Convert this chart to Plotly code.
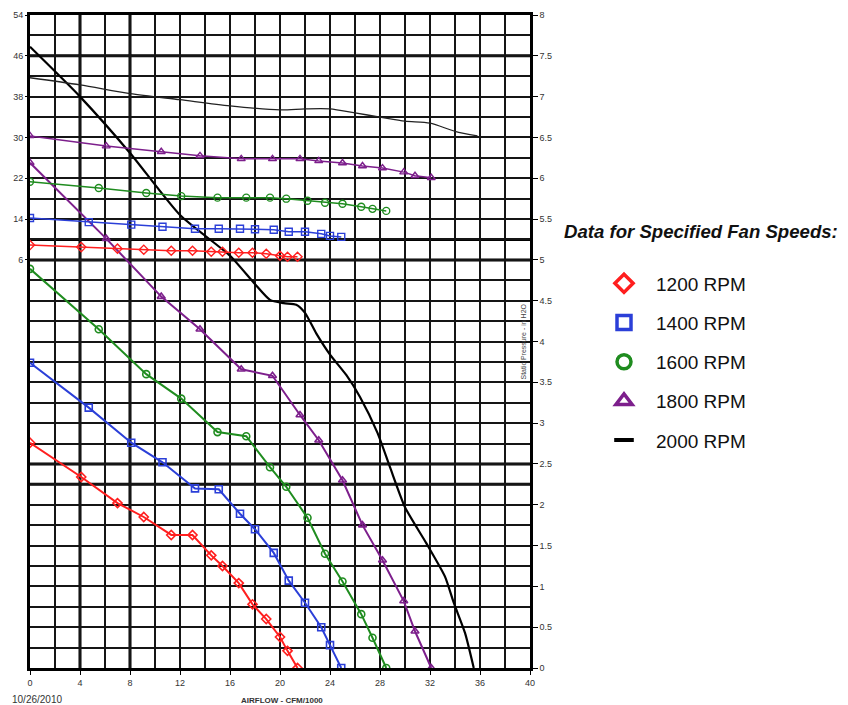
import plotly.graph_objects as go

# ---------------- data ----------------
x_1200 = [0, 4.1, 7.0, 9.1, 11.3, 13.0, 14.5, 15.4, 16.7, 17.8, 18.9, 20.0, 20.6, 21.4]
sp_1200 = [2.76, 2.34, 2.02, 1.85, 1.63, 1.63, 1.38, 1.25, 1.04, 0.78, 0.60, 0.38, 0.21, 0.0]
hp_1200 = [8.9, 8.5, 8.2, 8.0, 7.8, 7.8, 7.6, 7.6, 7.4, 7.4, 7.2, 6.8, 6.6, 6.6]

x_1400 = [0, 4.7, 8.1, 10.6, 13.2, 15.1, 16.8, 18.0, 19.5, 20.7, 22.0, 23.3, 24.0, 24.9]
sp_1400 = [3.74, 3.19, 2.76, 2.52, 2.20, 2.19, 1.89, 1.70, 1.41, 1.07, 0.80, 0.50, 0.28, 0.0]
hp_1400 = [14.2, 13.4, 12.9, 12.5, 12.1, 12.1, 12.1, 12.0, 11.9, 11.5, 11.5, 11.1, 10.7, 10.5]

x_1600 = [0, 5.5, 9.3, 12.1, 15.0, 17.3, 19.2, 20.5, 22.2, 23.6, 25.0, 26.5, 27.4, 28.5]
sp_1600 = [4.89, 4.15, 3.60, 3.30, 2.89, 2.84, 2.46, 2.22, 1.84, 1.40, 1.06, 0.66, 0.37, 0.0]
hp_1600 = [21.3, 20.1, 19.1, 18.5, 18.2, 18.2, 18.2, 18.0, 17.6, 17.2, 17.0, 16.4, 16.0, 15.6]

x_1800 = [0, 6.1, 10.5, 13.6, 16.9, 19.4, 21.6, 23.1, 25.0, 26.6, 28.2, 29.9, 30.8, 32.1]
sp_1800 = [6.19, 5.26, 4.55, 4.15, 3.66, 3.58, 3.10, 2.79, 2.30, 1.75, 1.32, 0.82, 0.45, 0.0]
hp_1800 = [30.3, 28.3, 27.2, 26.4, 25.8, 25.8, 25.8, 25.4, 25.0, 24.4, 24.0, 23.2, 22.5, 22.1]

x_2000_sp = [0, 4, 8, 12, 16, 17.9, 19.2, 20.3, 21.3, 22.0, 22.9, 24, 25.3, 26.4, 27.8,
             28.8, 30, 31.7, 33.2, 33.9, 34.8, 35.5]
sp_2000 = [7.61, 7.0, 6.31, 5.55, 5.05, 4.72, 4.51, 4.47, 4.45, 4.35, 4.10, 3.84, 3.59,
           3.32, 2.88, 2.46, 1.97, 1.53, 1.12, 0.80, 0.43, 0.0]
x_2000_hp = [0, 4, 8, 12, 16, 20, 22, 24, 26, 28, 30, 32, 34, 35.8]
hp_2000 = [41.7, 40.3, 38.6, 37.4, 36.2, 35.4, 35.6, 35.6, 34.8, 34.0, 33.2, 32.8, 31.2, 30.3]

speed_labels = ["1200 RPM", "1400 RPM", "1600 RPM", "1800 RPM", "2000 RPM"]
x_ticks = [0, 4, 8, 12, 16, 20, 24, 28, 32, 36, 40]
hp_ticks = [6, 14, 22, 30, 38, 46, 54]
bold_pressure_lines = [2.25, 2.5, 5.0, 5.25, 7.5]
bold_airflow_lines = [4, 8]

# ---------------- styling ----------------
RED, BLUE, GREEN, PURPLE, BLACK = "#ff1f1f", "#2b3fd8", "#1f8c1f", "#7d1f8c", "#000000"
FONT = "Liberation Sans, Arial, sans-serif"
GRID = "#151515"

fig = go.Figure()

series = [
    (x_1200, sp_1200, hp_1200, RED, "diamond-open"),
    (x_1400, sp_1400, hp_1400, BLUE, "square-open"),
    (x_1600, sp_1600, hp_1600, GREEN, "circle-open"),
    (x_1800, sp_1800, hp_1800, PURPLE, "triangle-up-open"),
]
for xs, sp, hp, col, sym in series:
    fig.add_trace(go.Scatter(x=xs, y=sp, yaxis="y", mode="lines+markers",
                             line=dict(color=col, width=2),
                             marker=dict(symbol=sym, size=7, color=col, line=dict(width=1.6, color=col)),
                             showlegend=False, hoverinfo="x+y"))
    fig.add_trace(go.Scatter(x=xs, y=hp, yaxis="y2", mode="lines+markers",
                             line=dict(color=col, width=1.5),
                             marker=dict(symbol=sym, size=7, color=col, line=dict(width=1.4, color=col)),
                             showlegend=False, hoverinfo="x+y"))

fig.add_trace(go.Scatter(x=x_2000_sp, y=sp_2000, yaxis="y", mode="lines",
                         line=dict(color=BLACK, width=2.2, shape="spline", smoothing=0.6),
                         showlegend=False))
fig.add_trace(go.Scatter(x=x_2000_hp, y=hp_2000, yaxis="y2", mode="lines",
                         line=dict(color="#222222", width=1.3, shape="spline", smoothing=0.8),
                         showlegend=False))

# legend entries (markers only, like the reference key)
legend_styles = [
    (RED, "diamond-open"), (BLUE, "square-open"), (GREEN, "circle-open"),
    (PURPLE, "triangle-up-open"), (BLACK, "line-ew"),
]
for i, (lab, (col, sym)) in enumerate(zip(speed_labels, legend_styles)):
    fig.add_trace(go.Scatter(x=[None], y=[None], mode="markers", name=lab,
                             legendgroup=f"g{i}",
                             marker=dict(symbol=sym, size=14, color=col,
                                         line=dict(width=4 if sym == "line-ew" else 3.5, color=col))))

# bold grid lines
for p in bold_pressure_lines:
    fig.add_shape(type="line", xref="x", yref="y", x0=0, x1=40, y0=p, y1=p,
                  line=dict(color="black", width=3), layer="below")
for xv in bold_airflow_lines:
    fig.add_shape(type="line", xref="x", yref="y", x0=xv, x1=xv, y0=0, y1=8,
                  line=dict(color="black", width=3), layer="below")

# the page body adds an 8px offset; the figure is sized to fit the 848x705 window
fig.update_layout(
    width=840, height=697,
    margin=dict(l=22, r=318, t=7, b=37),
    paper_bgcolor="white", plot_bgcolor="white",
    font=dict(family=FONT, color="#222222"),
    xaxis=dict(range=[0, 40], tickvals=x_ticks, showgrid=True, gridcolor=GRID, gridwidth=1.7,
               minor=dict(dtick=2, showgrid=True, gridcolor=GRID, gridwidth=1.7),
               ticks="outside", ticklen=4, tickcolor="black", automargin=False,
               tickfont=dict(size=9, family=FONT, color="#333333"),
               showline=True, linecolor="black", linewidth=2.5, mirror=True, zeroline=False),
    yaxis=dict(range=[0, 8], dtick=0.5, side="right", showgrid=True, gridcolor=GRID, gridwidth=1.7,
               minor=dict(dtick=0.25, showgrid=True, gridcolor=GRID, gridwidth=1.7),
               ticks="outside", ticklen=5, tickcolor="black", automargin=False,
               tickfont=dict(size=9, family=FONT, color="#333333"),
               showline=True, linecolor="black", linewidth=2.5, mirror=True, zeroline=False),
    yaxis2=dict(range=[-74, 54], tickvals=hp_ticks, side="left", overlaying="y", showgrid=False,
                ticks="outside", ticklen=4, tickcolor="black", zeroline=False, automargin=False,
                tickfont=dict(size=9, family=FONT, color="#333333"), showline=False),
    legend=dict(x=1.124, y=0.618, xanchor="left", yanchor="top",
                font=dict(size=19, family=FONT, color="#111111"),
                itemwidth=54, tracegroupgap=11.5, traceorder="grouped",
                bgcolor="rgba(0,0,0,0)"),
    annotations=[
        dict(text="<b><i>Data for Specified Fan Speeds:</i></b>", xref="paper", yref="paper",
             x=1.063, y=0.668, xanchor="left", yanchor="middle", showarrow=False,
             font=dict(size=18.6, family=FONT, color="#111111")),
        dict(text="10/26/2010", xref="paper", yref="paper", x=-0.04, y=-0.049,
             xanchor="left", yanchor="middle", showarrow=False,
             font=dict(size=10, family=FONT, color="#333333")),
        dict(text="<b>AIRFLOW - CFM/1000</b>", xref="paper", yref="paper", x=0.418, y=-0.05,
             xanchor="left", yanchor="middle", showarrow=False,
             font=dict(size=8, family=FONT, color="#333333")),
        dict(text="Static Pressure - in H2O", xref="paper", yref="paper", x=0.986, y=0.5,
             xanchor="center", yanchor="middle", textangle=-90, showarrow=False,
             font=dict(size=7, family=FONT, color="#444444")),
    ],
)

fig.write_html("out.html")
